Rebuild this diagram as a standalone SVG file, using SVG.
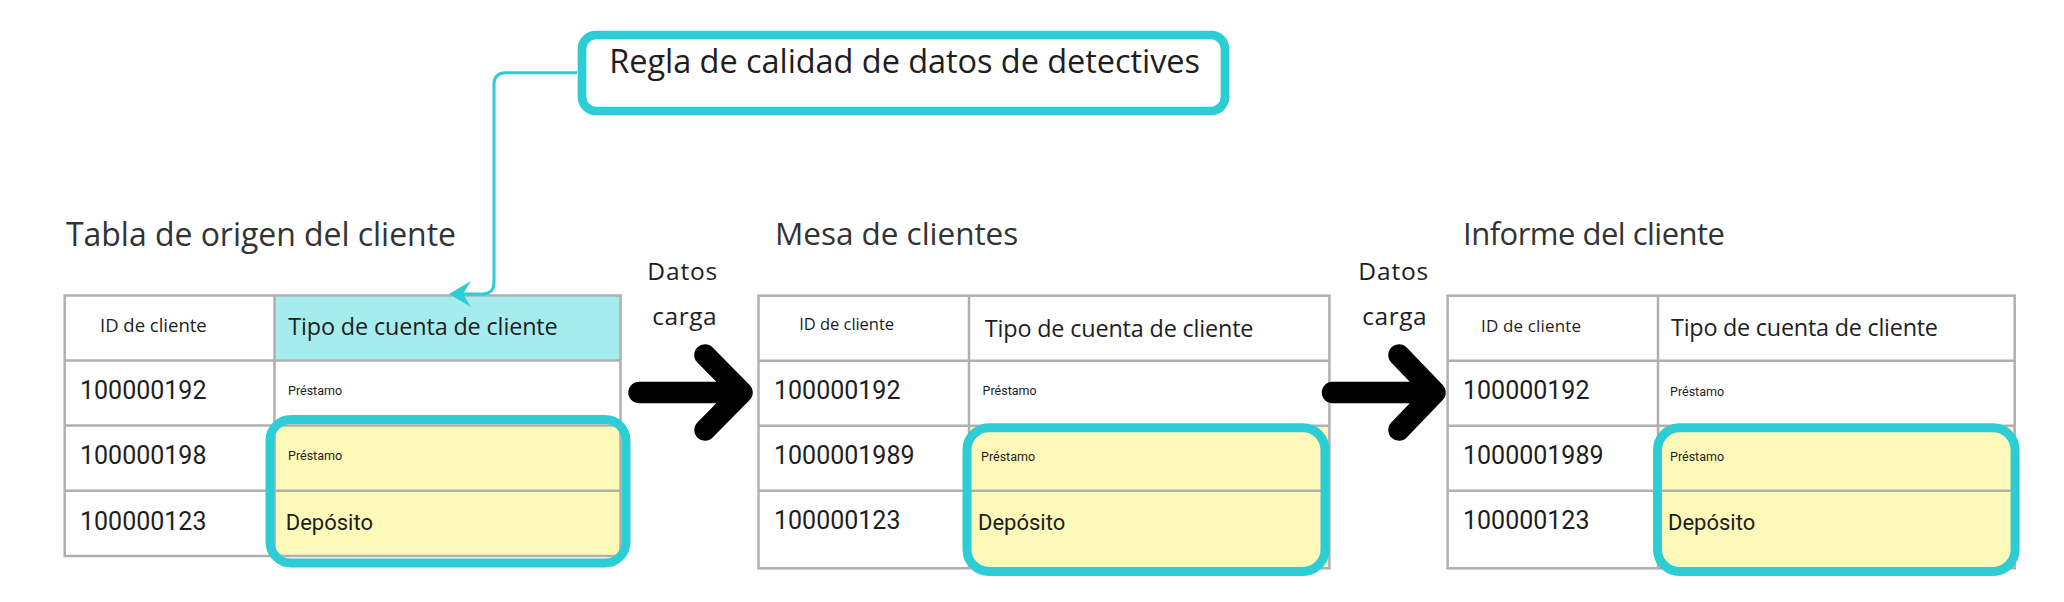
<svg xmlns="http://www.w3.org/2000/svg" width="2064" height="602" viewBox="0 0 2064 602">
<defs>
<style>
text{font-family:"Open Sans","Liberation Sans",sans-serif;fill:#1e1e1e}
.title{font-size:31.5px;fill:#333}
.hid{font-size:18.5px}
.hid2{font-size:16.5px}
.htipo{font-size:23.4px}
.id{font-family:Roboto,"Liberation Sans",sans-serif;font-size:25px}
.pr{font-family:Roboto,"Liberation Sans",sans-serif;font-size:12.5px}
.dep{font-family:Roboto,"Liberation Sans",sans-serif;font-size:22px}
.lbl{font-size:24.5px}
.grid{fill:none;stroke:#b0b0b0;stroke-width:2.5}
.hl{fill:none;stroke:#2ccdd4;stroke-width:9}
.yel{fill:#fff9b9}
.cyan{fill:#a6ecee}
.big{fill:none;stroke:#000;stroke-width:21.5;stroke-linecap:round;stroke-linejoin:round}
</style>
</defs>
<rect width="2064" height="602" fill="#fff"/>

<g id="rule">
<rect x="582" y="35" width="643" height="76" rx="14" fill="#fff" stroke="#2ccdd4" stroke-width="8.7"/>
<text x="609.3" y="73.3" style="font-size:32.5px" textLength="590.7" lengthAdjust="spacing">Regla de calidad de datos de detectives</text>
</g>

<g id="table1">
<text class="title" x="66" y="246" style="font-size:32px" textLength="390" lengthAdjust="spacing">Tabla de origen del cliente</text>
<rect class="cyan" x="274.5" y="295.5" width="346" height="65"/>
<rect class="yel" x="274.5" y="425.5" width="346" height="130.5"/>
<rect class="grid" x="64.7" y="295.5" width="555.8" height="260.5"/>
<path class="grid" d="M274.5 295.5V556M64.7 360.5H620.5M64.7 425.5H620.5M64.7 490.7H620.5"/>
<text class="hid" x="100" y="332.3" textLength="106.7" lengthAdjust="spacing">ID de cliente</text>
<text class="htipo" x="288.3" y="335" textLength="269.4" lengthAdjust="spacing">Tipo de cuenta de cliente</text>
<text class="id" x="80" y="399.3">100000192</text>
<text class="pr" x="288" y="395">Préstamo</text>
<text class="id" x="80" y="464.3">100000198</text>
<text class="pr" x="288" y="460">Préstamo</text>
<text class="id" x="80" y="530">100000123</text>
<text class="dep" x="285.7" y="530">Depósito</text>
<rect class="hl" x="270" y="419.5" width="356" height="143.5" rx="21"/>
</g>

<g id="table2">
<text class="title" x="775" y="245" textLength="243.3" lengthAdjust="spacing">Mesa de clientes</text>
<rect class="yel" x="969" y="425.7" width="360.4" height="142.6"/>
<rect class="grid" x="758.5" y="295.7" width="570.9" height="272.6"/>
<path class="grid" d="M969 295.7V568.3M758.5 360.7H1329.4M758.5 425.7H1329.4M758.5 490.7H1329.4"/>
<text class="hid2" x="799.3" y="330" textLength="94.7" lengthAdjust="spacing">ID de cliente</text>
<text class="htipo" x="984.8" y="336.7" textLength="268.7" lengthAdjust="spacing">Tipo de cuenta de cliente</text>
<text class="id" x="774" y="399.3">100000192</text>
<text class="pr" x="982.6" y="395">Préstamo</text>
<text class="id" x="774" y="464.3">1000001989</text>
<text class="pr" x="981" y="460.7">Préstamo</text>
<text class="id" x="774" y="529.3">100000123</text>
<text class="dep" x="978" y="530">Depósito</text>
<rect class="hl" x="967" y="427.8" width="358" height="143.7" rx="22"/>
</g>

<g id="table3">
<text class="title" x="1463" y="245" style="font-size:31px" textLength="262" lengthAdjust="spacing">Informe del cliente</text>
<rect class="yel" x="1658" y="425.7" width="356.7" height="142.6"/>
<rect class="grid" x="1447.6" y="295.7" width="567.1" height="272.6"/>
<path class="grid" d="M1658 295.7V568.3M1447.6 360.7H2014.7M1447.6 425.7H2014.7M1447.6 490.7H2014.7"/>
<text class="hid2" x="1481" y="331.7" style="font-size:17px" textLength="100" lengthAdjust="spacing">ID de cliente</text>
<text class="htipo" x="1671" y="335.7" textLength="267" lengthAdjust="spacing">Tipo de cuenta de cliente</text>
<text class="id" x="1463" y="399.3">100000192</text>
<text class="pr" x="1670" y="395.7">Préstamo</text>
<text class="id" x="1463" y="464.3">1000001989</text>
<text class="pr" x="1670" y="460.7">Préstamo</text>
<text class="id" x="1463" y="529.3">100000123</text>
<text class="dep" x="1668" y="530">Depósito</text>
<rect class="hl" x="1657.5" y="427.8" width="357.6" height="143.7" rx="22"/>
</g>

<g id="connectors">
<path d="M577 72.7H506Q494 72.7 494 84.7V282Q494 294 482 294H462" fill="none" stroke="#2ccdd4" stroke-width="3"/>
<path d="M449 294L471 281L463 294L471 307Z" fill="#2ccdd4"/>
<text class="lbl" x="647.3" y="280" textLength="70" lengthAdjust="spacing">Datos</text>
<text class="lbl" x="652.3" y="325" textLength="64.4" lengthAdjust="spacing">carga</text>
<path class="big" d="M639 392.5H742M705 355L742 392.5L705 430"/>
<text class="lbl" x="1358.3" y="280" textLength="70" lengthAdjust="spacing">Datos</text>
<text class="lbl" x="1362.3" y="325" textLength="64.4" lengthAdjust="spacing">carga</text>
<path class="big" d="M1332.5 392.5H1435M1399 355L1435 392.5L1399 430"/>
</g>
</svg>
